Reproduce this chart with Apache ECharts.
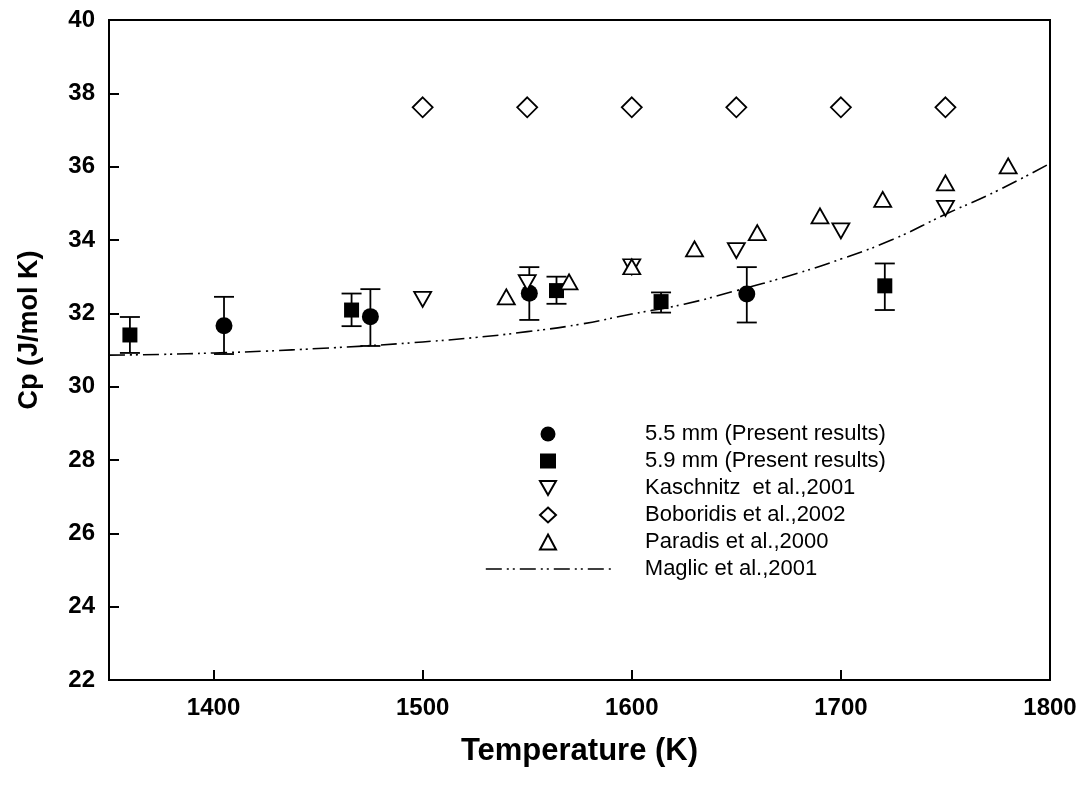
<!DOCTYPE html>
<html>
<head>
<meta charset="utf-8">
<script src="https://cdn.jsdelivr.net/npm/echarts@6/dist/echarts.min.js"></script>
<style>
  html, body { margin: 0; padding: 0; background: #fff; }
  #chart { width: 1087px; height: 787px; }
</style>
</head>
<body>
<div id="chart"></div>
<script>
// x axis tick labels
const tempTicks = [1400, 1500, 1600, 1700, 1800];

// 5.5 mm (present results): [T, Cp]
const res55 = [[1405, 31.66], [1475, 31.91], [1551, 32.55], [1655, 32.53]];
// error bars: [T, low, high]
const res55Err = [[1405, 30.89, 32.45], [1475, 31.11, 32.66], [1551, 31.82, 33.26], [1655, 31.75, 33.26]];

// 5.9 mm (present results)
const res59 = [[1360, 31.41], [1466, 32.09], [1564, 32.62], [1614, 32.32], [1721, 32.75]];
const res59Err = [[1360, 30.92, 31.90], [1466, 31.65, 32.54], [1564, 32.26, 33.00], [1614, 32.02, 32.57], [1721, 32.09, 33.36]];

// Kaschnitz et al., 2001
const kaschnitz = [[1500, 32.38], [1550, 32.84], [1600, 33.27], [1650, 33.71], [1700, 34.25], [1750, 34.86]];

// Boboridis et al., 2002
const boboridis = [[1500, 37.62], [1550, 37.62], [1600, 37.62], [1650, 37.62], [1700, 37.62], [1750, 37.62]];

// Paradis et al., 2000
const paradis = [[1540, 32.45], [1570, 32.86], [1600, 33.27], [1630, 33.76], [1660, 34.20],
                 [1690, 34.66], [1720, 35.11], [1750, 35.56], [1780, 36.02]];

// Maglic et al., 2001 (curve)
const maglic = [[1350, 30.86], [1375, 30.88], [1400, 30.92], [1425, 30.97], [1450, 31.04],
                [1475, 31.12], [1500, 31.22], [1525, 31.34], [1550, 31.50], [1575, 31.70],
                [1600, 31.98], [1625, 32.25], [1650, 32.62], [1675, 33.02], [1700, 33.48],
                [1725, 34.02], [1750, 34.70], [1775, 35.35], [1800, 36.09]];

const font = "'Liberation Sans', Arial, sans-serif";

function errorBars(params, api) {
    const x = api.value(0);
    const lo = api.coord([x, api.value(1)]);
    const hi = api.coord([x, api.value(2)]);
    const half = 10;
    const style = { stroke: '#000', lineWidth: 1.8 };
    return {
        type: 'group',
        children: [
            { type: 'line', shape: { x1: lo[0], y1: lo[1], x2: hi[0], y2: hi[1] }, style: style },
            { type: 'line', shape: { x1: lo[0] - half, y1: lo[1], x2: lo[0] + half, y2: lo[1] }, style: style },
            { type: 'line', shape: { x1: hi[0] - half, y1: hi[1], x2: hi[0] + half, y2: hi[1] }, style: style }
        ]
    };
}

const hollow = { color: '#fff', borderColor: '#000', borderWidth: 1.8, opacity: 1 };
const solid = { color: '#000', opacity: 1 };
const legendText = { fontSize: 22, color: '#000', fontFamily: font, lineHeight: 20 };

const chart = echarts.init(document.getElementById('chart'));
chart.setOption({
    animation: false,
    backgroundColor: '#fff',
    textStyle: { fontFamily: font },
    grid: {
        left: 109, right: 37, top: 20, bottom: 107,
        show: true, borderColor: '#000', borderWidth: 2, backgroundColor: 'transparent'
    },
    legend: [
        {
            orient: 'vertical',
            left: 534,
            top: 418,
            itemWidth: 16,
            itemHeight: 15,
            itemGap: 5,
            selectedMode: false,
            symbolKeepAspect: true,
            data: [
                { name: '5.5 mm (Present results)' },
                { name: '5.9 mm (Present results)', itemStyle: { borderWidth: 0 } },
                { name: 'Kaschnitz  et al.,2001', icon: 'path://M0,0L16,0L8,14Z' },
                { name: 'Boboridis et al.,2002' },
                { name: 'Paradis et al.,2000' }
            ],
            textStyle: Object.assign({ padding: [0, 0, 0, 84] }, legendText)
        },
        {
            orient: 'vertical',
            left: 480,
            top: 553,
            itemWidth: 125,
            itemHeight: 15,
            selectedMode: false,
            itemStyle: { color: 'transparent', borderWidth: 0, opacity: 0 },
            lineStyle: { color: '#000', width: 1.6, type: [16, 5, 2, 4, 2, 5] },
            data: ['Maglic et al.,2001'],
            textStyle: Object.assign({ padding: [0, 0, 0, 29] }, legendText)
        }
    ],
    xAxis: {
        type: 'value',
        min: 1350,
        max: 1800,
        interval: 50,
        name: 'Temperature (K)',
        nameLocation: 'middle',
        nameGap: 56,
        nameTextStyle: { fontSize: 31, fontWeight: 'bold', color: '#000', fontFamily: font },
        axisLine: { lineStyle: { color: '#000', width: 2 } },
        axisTick: { inside: true, length: 10, lineStyle: { color: '#000', width: 2 }, customValues: tempTicks },
        axisLabel: {
            fontSize: 24, fontWeight: 'bold', color: '#000', margin: 16, customValues: tempTicks,
            formatter: function (v) { return String(v); }
        },
        splitLine: { show: false }
    },
    yAxis: {
        type: 'value',
        min: 22,
        max: 40,
        interval: 2,
        name: 'Cp (J/mol K)',
        nameLocation: 'middle',
        nameGap: 66,
        nameTextStyle: { fontSize: 27, fontWeight: 'bold', color: '#000', fontFamily: font, padding: [0, 0, 0, 40] },
        axisLine: { lineStyle: { color: '#000', width: 2 } },
        axisTick: { inside: true, length: 10, lineStyle: { color: '#000', width: 2 } },
        axisLabel: { fontSize: 24, fontWeight: 'bold', color: '#000', margin: 14 },
        splitLine: { show: false }
    },
    series: [
        {
            name: 'Maglic et al.,2001',
            type: 'line',
            data: maglic,
            smooth: true,
            symbol: 'none',
            itemStyle: { color: '#000' },
            lineStyle: { color: '#000', width: 1.6, type: [16, 5, 2, 4, 2, 5] },
            z: 1
        },
        { name: 'err55', type: 'custom', renderItem: errorBars, data: res55Err, z: 2 },
        { name: 'err59', type: 'custom', renderItem: errorBars, data: res59Err, z: 2 },
        {
            name: '5.5 mm (Present results)',
            type: 'scatter', data: res55, symbol: 'circle', symbolSize: 17,
            itemStyle: solid, z: 3
        },
        {
            name: '5.9 mm (Present results)',
            type: 'scatter', data: res59, symbol: 'rect', symbolSize: 15,
            itemStyle: solid, z: 3
        },
        {
            name: 'Kaschnitz  et al.,2001',
            type: 'scatter', data: kaschnitz, symbol: 'triangle', symbolRotate: 180, symbolSize: [17, 15],
            itemStyle: hollow, z: 3
        },
        {
            name: 'Boboridis et al.,2002',
            type: 'scatter', data: boboridis, symbol: 'diamond', symbolSize: [20, 20],
            itemStyle: hollow, z: 3
        },
        {
            name: 'Paradis et al.,2000',
            type: 'scatter', data: paradis, symbol: 'triangle', symbolSize: [17, 15],
            itemStyle: hollow, z: 3
        }
    ]
});
</script>
</body>
</html>
